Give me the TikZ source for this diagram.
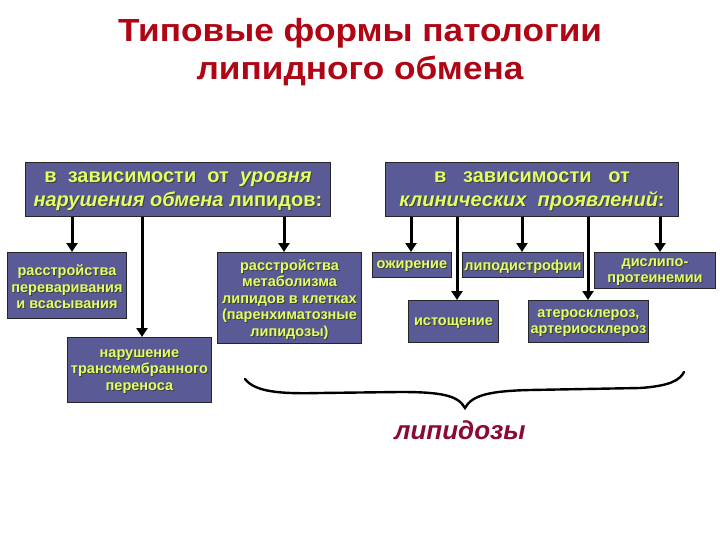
\documentclass[tikz,border=0pt]{standalone}
\usepackage{fontspec}
\setmainfont{Liberation Sans}
\newfontfamily\titlefont[FakeStretch=1.1]{Liberation Sans}
\usetikzlibrary{arrows.meta}
\definecolor{boxfill}{RGB}{90,90,150}
\definecolor{boxtext}{RGB}{225,255,100}
\definecolor{titlered}{RGB}{175,5,20}
\definecolor{lipred}{RGB}{140,10,50}
\tikzset{
  box/.style={draw=black!85, line width=0.9pt, fill=boxfill, inner sep=0pt, anchor=north west},
  btxt/.style={text=boxtext, align=center, inner sep=0pt, font=\bfseries\fontsize{14.5}{16.5}\selectfont},
  bsh/.style={btxt, text=black!75},
  htxt/.style={btxt, font=\bfseries\fontsize{20}{24}\selectfont},
  hsh/.style={htxt, text=black!75},
  arr/.style={line width=3pt, -{Triangle[width=11pt,length=9pt]}, black}
}
% name, x, y, w, h, text style, shadow style, text
\newcommand\mybox[8]{%
  \node[box, minimum width=#4pt, minimum height=#5pt] (#1) at (#2,#3) {};
  \node[#7] at ([shift={(1pt,-2.5pt)}]#1.center) {#8};
  \node[#6] (#1t) at ([shift={(0pt,-1.5pt)}]#1.center) {#8};
}
\begin{document}
\begin{tikzpicture}[x=1pt,y=-1pt]
\useasboundingbox[fill=white] (0,0) rectangle (720,540);
% title
\node[text=titlered, font=\titlefont\bfseries\fontsize{32}{38}\selectfont, align=center] (title) at (360,52) {Типовые формы патологии\\липидного обмена};
% headers
\mybox{hl}{25}{162}{305}{54}{htxt}{hsh}{в\ \ зависимости\ \ от\ \ \textit{уровня}\\\textit{нарушения обмена} липидов:}
\mybox{hr}{385}{162}{293}{54}{htxt}{hsh}{в\ \ \ зависимости\ \ \ от\\\textit{клинических\ \ проявлений}:}
% left boxes
\mybox{b1}{7}{252}{119}{66}{btxt}{bsh}{расстройства\\переваривания\\и всасывания}
\mybox{b2}{67}{337}{144}{65}{btxt}{bsh}{нарушение\\трансмембранного\\переноса}
\mybox{b3}{217}{252}{144}{91}{btxt}{bsh}{расстройства\\метаболизма\\липидов в клетках\\(паренхиматозные\\липидозы)}
% right boxes
\mybox{r1}{372}{252}{79}{25}{btxt}{bsh}{ожирение}
\mybox{r2}{462}{252}{121}{25}{btxt}{bsh}{липодистрофии}
\mybox{r3}{594}{252}{121}{36}{btxt}{bsh}{дислипо-\\протеинемии}
\mybox{r4}{408}{300}{90}{42}{btxt}{bsh}{истощение}
\mybox{r5}{528}{300}{120}{42}{btxt}{bsh}{атеросклероз,\\артериосклероз}
% arrows
\draw[arr] (hl.south -| 72,0) -- (b1.north -| 72,0);
\draw[arr] (hl.south -| 142,0) -- (b2.north -| 142,0);
\draw[arr] (hl.south -| 284,0) -- (b3.north -| 284,0);
\draw[arr] (hr.south -| 411,0) -- (r1.north -| 411,0);
\draw[arr] (hr.south -| 457,0) -- (r4.north -| 457,0);
\draw[arr] (hr.south -| 522,0) -- (r2.north -| 522,0);
\draw[arr] (hr.south -| 588,0) -- (r5.north -| 588,0);
\draw[arr] (hr.south -| 660,0) -- (r3.north -| 660,0);
% brace
\coordinate (bl) at (245,379);
\coordinate (bt) at (465,408);
\coordinate (br) at (684,372);
\draw[line width=2.4pt, line cap=round] (bl) .. controls (255,392) and (280,394) .. (320,393)
  -- (400,392) .. controls (440,392) and (458,395) .. (bt)
  .. controls (472,395) and (490,391) .. (530,390)
  -- (640,388) .. controls (670,386) and (680,380) .. (br);
\node[text=lipred, font=\bfseries\itshape\fontsize{26}{28}\selectfont] (lip) at (460,430) {липидозы};
\end{tikzpicture}
\end{document}
